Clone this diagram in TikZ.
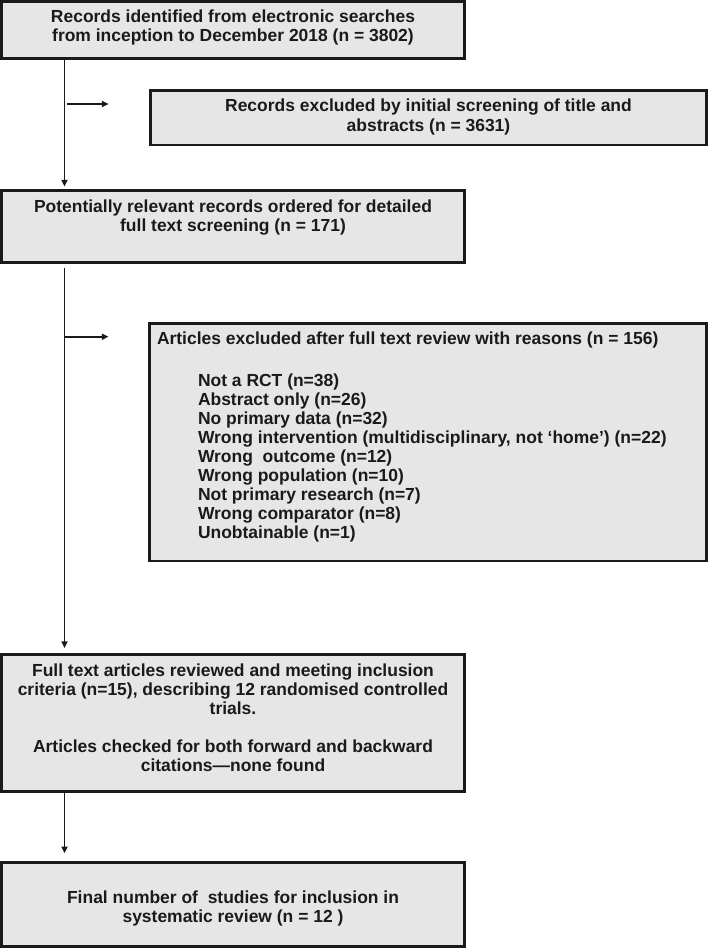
\documentclass[tikz,border=0pt]{standalone}
\usepackage{fontspec}
\setmainfont{Liberation Sans}
\usetikzlibrary{arrows.meta,fit}
\definecolor{boxfill}{HTML}{E6E6E6}
\definecolor{ink}{HTML}{1A1A1A}
\tikzset{
  flowbox/.style={draw=ink, fill=boxfill, line width=2.2pt, rectangle, outer sep=0pt, inner sep=0pt},
  txt/.style={inner sep=0pt, outer sep=0pt, text=ink, font=\fontsize{13.1pt}{14.25pt}\selectfont\bfseries},
  arr/.style={draw=ink, line width=1.45pt, -{Triangle[length=5pt,width=4.5pt]}},
}
\begin{document}
\begin{tikzpicture}[x=0.75pt,y=-0.75pt]
\useasboundingbox (0,0) rectangle (709,949);
% boxes
\node[flowbox, fit={(1.5,1.5) (464.5,58.5)}] (b1) {};
\node[flowbox, fit={(150.5,90.5) (706.5,145)}] (b2) {};
\node[flowbox, fit={(1.5,190.5) (464.5,262.5)}] (b3) {};
\node[flowbox, fit={(149.5,323.5) (706.5,561)}] (b4) {};
\node[flowbox, fit={(1.5,654.5) (464.5,791.5)}] (b5) {};
\node[flowbox, fit={(1.5,862.5) (464.5,946.5)}] (b6) {};
% texts
\node[txt, anchor=base] (t1) at (233,23) {\begin{tabular}[t]{@{}c@{}}Records identified from electronic searches\\ from inception to December 2018 (n = 3802)\end{tabular}};
\node[txt, anchor=base] (t2) at (428.5,112) {\begin{tabular}[t]{@{}c@{}}Records excluded by initial screening of title and\\ abstracts (n = 3631)\end{tabular}};
\node[txt, anchor=base] (t3) at (233,212) {\begin{tabular}[t]{@{}c@{}}Potentially relevant records ordered for detailed\\ full text screening (n = 171)\end{tabular}};
\node[txt, anchor=base west] (t4) at (157,344) {Articles excluded after full text review with reasons (n = 156)};
\node[txt, anchor=base west] (t4l) at (198,386) {\begin{tabular}[t]{@{}l@{}}Not a RCT (n=38)\\ Abstract only (n=26)\\ No primary data (n=32)\\ Wrong intervention (multidisciplinary, not ‘home’) (n=22)\\ Wrong\ \ outcome (n=12)\\ Wrong population (n=10)\\ Not primary research (n=7)\\ Wrong comparator (n=8)\\ Unobtainable (n=1)\end{tabular}};
\node[txt, anchor=base] (t5) at (233,676) {\begin{tabular}[t]{@{}c@{}}Full text articles reviewed and meeting inclusion\\ criteria (n=15), describing 12 randomised controlled\\ trials.\\ \\ Articles checked for both forward and backward\\ citations—none found\end{tabular}};
\node[txt, anchor=base] (t6) at (233,903) {\begin{tabular}[t]{@{}c@{}}Final number of\ \ studies for inclusion in\\ systematic review (n = 12 )\end{tabular}};
% connectors
\coordinate (col) at (64.5,0);
\coordinate (j1) at (67,104);
\coordinate (e1) at (108.5,104);
\coordinate (j2) at (64.5,336.7);
\coordinate (e2) at (108.5,336.7);
\draw[arr, shorten >=3pt] (b1.south -| col) -- (b3.north -| col);
\draw[arr] (j1) -- (e1);
\draw[arr, shorten <=4pt, shorten >=4.9pt] (b3.south -| col) -- (b5.north -| col);
\draw[arr] (j2) -- (e2);
\draw[arr, shorten >=7pt] (b5.south -| col) -- (b6.north -| col);
\end{tikzpicture}
\end{document}
